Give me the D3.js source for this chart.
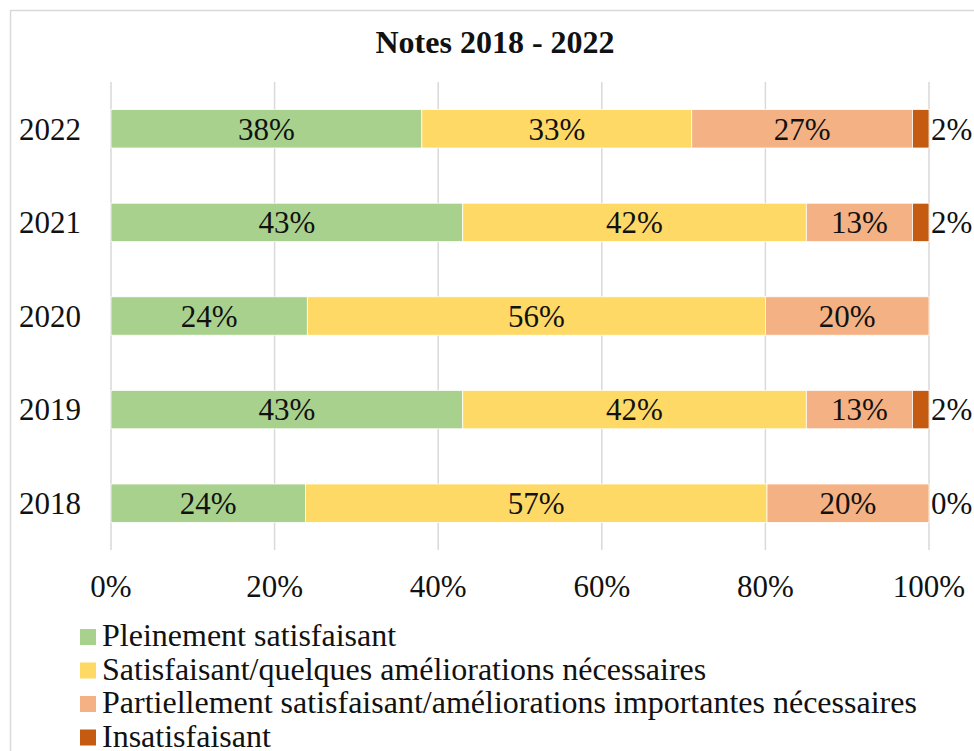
<!DOCTYPE html>
<html>
<head>
<meta charset="utf-8">
<script src="https://cdn.jsdelivr.net/npm/d3@7"></script>
<style>
  html, body { margin: 0; padding: 0; background: #fff; }
  svg { display: block; }
</style>
</head>
<body>
<svg id="chart" width="974" height="751"></svg>
<script>
// Rating distribution per year, in percent
const years = ["2022", "2021", "2020", "2019", "2018"];
const seriesNames = [
  "Pleinement satisfaisant",
  "Satisfaisant/quelques améliorations nécessaires",
  "Partiellement satisfaisant/améliorations importantes nécessaires",
  "Insatisfaisant"
];
const pleinement   = [38, 43, 24, 43, 24];
const satisfaisant = [33, 42, 56, 42, 57];
const partiel      = [27, 13, 20, 13, 20];
const insatisf     = [2, 2, 0, 2, 0];
// whether the "Insatisfaisant" label is printed for each year
const showLastLabel = [true, true, false, true, true];
const xTicks = [0, 0.2, 0.4, 0.6, 0.8, 1];
const colors = ["#a9d18e", "#ffd966", "#f4b183", "#c55a11"];

const FONT = "'Liberation Serif', 'Times New Roman', serif";
const TEXT = "#111";

const seriesValues = [pleinement, satisfaisant, partiel, insatisf];
const rows = years.map((y, i) => {
  const r = { year: y };
  seriesNames.forEach((s, k) => { r[s] = seriesValues[k][i]; });
  return r;
});

const svg = d3.select("#chart");

// outer chart frame
svg.append("rect")
  .attr("x", 10.5).attr("y", 10.5)
  .attr("width", 1000).attr("height", 800)
  .attr("fill", "none").attr("stroke", "#d9d9d9").attr("stroke-width", 1.5);

svg.append("text")
  .attr("x", 495).attr("y", 53)
  .attr("text-anchor", "middle")
  .style("font-family", FONT).style("fill", TEXT)
  .style("font-size", "32px").style("font-weight", "bold")
  .text("Notes 2018 - 2022");

const x = d3.scaleLinear().domain([0, 1]).range([111, 929]);
const y = d3.scaleBand().domain(years).range([82, 550])
  .paddingInner(0.59).paddingOuter(0.295);

// vertical gridlines
svg.append("g").selectAll("line").data(xTicks).join("line")
  .attr("x1", d => x(d)).attr("x2", d => x(d))
  .attr("y1", 82).attr("y2", 550)
  .attr("stroke", "#d9d9d9").attr("stroke-width", 1.5);

const stack = d3.stack().keys(seriesNames).offset(d3.stackOffsetExpand);
const stacked = stack(rows);

const layers = svg.append("g").selectAll("g").data(stacked).join("g")
  .attr("fill", (d, i) => colors[i]);

layers.selectAll("rect").data(d => d).join("rect")
  .attr("x", d => x(d[0]))
  .attr("width", d => Math.max(0, x(d[1]) - x(d[0])))
  .attr("y", d => y(d.data.year))
  .attr("height", y.bandwidth())
  .attr("stroke", "#fff").attr("stroke-width", 0.75);

// value labels
const fmt = v => v + "%";
stacked.forEach((layer, k) => {
  const last = k === seriesNames.length - 1;
  svg.append("g").selectAll("text").data(layer).join("text")
    .filter((d, i) => !last || showLastLabel[i])
    .attr("x", d => last ? x(d[1]) + 2 : (x(d[0]) + x(d[1])) / 2)
    .attr("y", d => y(d.data.year) + y.bandwidth() / 2)
    .attr("dy", "0.35em")
    .attr("text-anchor", last ? "start" : "middle")
    .style("font-family", FONT).style("fill", TEXT)
    .style("font-size", "31px")
    .text(d => fmt(d.data[layer.key]));
});

// category axis labels
svg.append("g").selectAll("text").data(years).join("text")
  .attr("x", 81)
  .attr("y", d => y(d) + y.bandwidth() / 2)
  .attr("dy", "0.35em")
  .attr("text-anchor", "end")
  .style("font-family", FONT).style("fill", TEXT)
  .style("font-size", "31px")
  .text(d => d);

// value axis labels
svg.append("g").selectAll("text").data(xTicks).join("text")
  .attr("x", d => x(d))
  .attr("y", 597)
  .attr("text-anchor", "middle")
  .style("font-family", FONT).style("fill", TEXT)
  .style("font-size", "31px")
  .text(d3.format(".0%"));

// legend
const legend = svg.append("g").selectAll("g").data(seriesNames).join("g")
  .attr("transform", (d, i) => `translate(80, ${646 + i * 33.5})`);
legend.append("rect")
  .attr("x", 0).attr("y", -17)
  .attr("width", 16).attr("height", 16)
  .attr("fill", (d, i) => colors[i]);
legend.append("text")
  .attr("x", 22).attr("y", 0)
  .style("font-family", FONT).style("fill", TEXT)
  .style("font-size", "32px")
  .text(d => d);
</script>
</body>
</html>
